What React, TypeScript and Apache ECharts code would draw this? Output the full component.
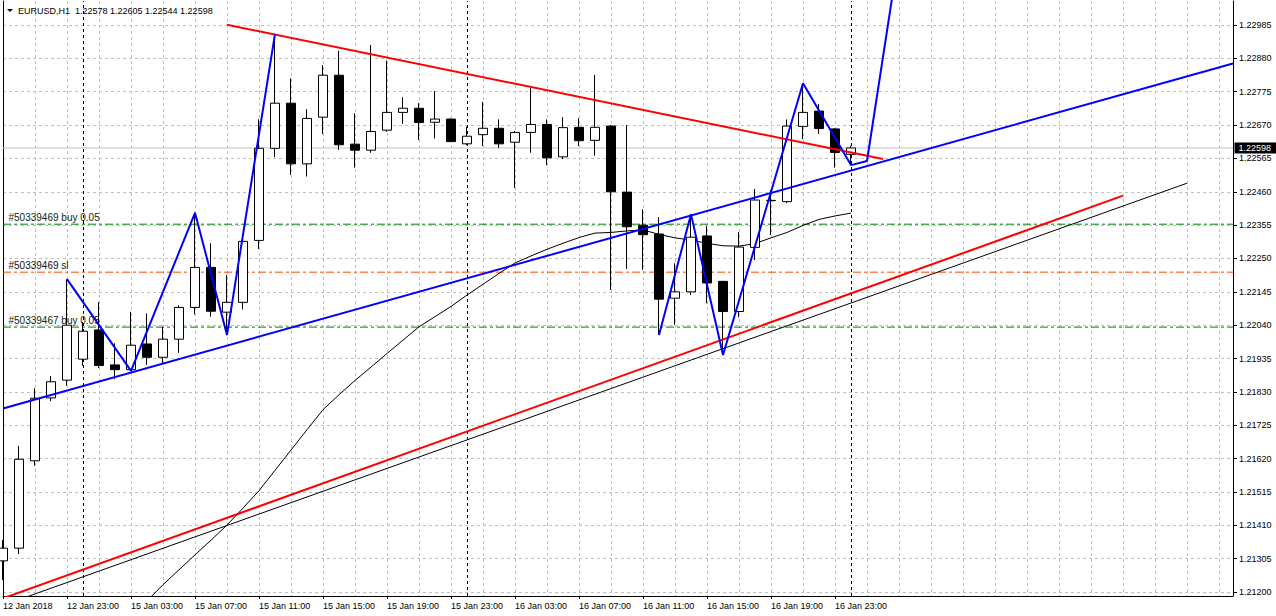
import React, { useEffect, useRef } from "react";
import * as echarts from "echarts";

const chartTitle = "EURUSD,H1  1.22578 1.22605 1.22544 1.22598";

// H1 bars, index 0 = 12 Jan 19:00 ... index 53 = 17 Jan 00:00
const opens = [
  1.21298, 1.21338, 1.21613, 1.21811, 1.21867, 1.21933, 1.22025, 1.21915, 1.219, 1.21981,
  1.21939, 1.21996, 1.22096, 1.22222, 1.22081, 1.22112, 1.22307, 1.22597, 1.22739, 1.22548,
  1.22695, 1.22827, 1.2261, 1.22591, 1.22654, 1.2271, 1.22723, 1.22679, 1.22689, 1.22611,
  1.2264, 1.2266, 1.22616, 1.22647, 1.22672, 1.2257, 1.22663, 1.22622, 1.22667, 1.22459,
  1.22355, 1.22327, 1.22125, 1.22145, 1.22321, 1.22178, 1.22083, 1.22285, 1.22432, 1.22429,
  1.22666, 1.22714, 1.22658, 1.22578,
];
const highs = [
  1.21364, 1.2166, 1.21841, 1.2188, 1.22185, 1.2205, 1.22113, 1.21983, 1.22082, 1.22077,
  1.22035, 1.22103, 1.22394, 1.22298, 1.22198, 1.22315, 1.22688, 1.22957, 1.22817, 1.2272,
  1.22859, 1.22904, 1.22707, 1.22922, 1.22873, 1.22758, 1.22739, 1.22777, 1.22692, 1.22665,
  1.22743, 1.22688, 1.22652, 1.22786, 1.22688, 1.22695, 1.22692, 1.22828, 1.2267, 1.2267,
  1.22405, 1.2238, 1.22235, 1.22389, 1.22352, 1.22179, 1.22333, 1.22469, 1.22466, 1.22688,
  1.22802, 1.22736, 1.22661, 1.22605,
];
const lows = [
  1.21238, 1.2132, 1.21598, 1.21801, 1.21849, 1.21912, 1.21905, 1.2187, 1.21896, 1.21915,
  1.2192, 1.21953, 1.22074, 1.22067, 1.22009, 1.2209, 1.2228, 1.22569, 1.22513, 1.22508,
  1.22642, 1.22592, 1.22536, 1.22583, 1.22649, 1.22674, 1.22623, 1.22628, 1.22617, 1.22607,
  1.22604, 1.22598, 1.22472, 1.22583, 1.22544, 1.22563, 1.22604, 1.22574, 1.22151, 1.22217,
  1.22214, 1.22009, 1.22041, 1.22135, 1.22109, 1.21946, 1.22065, 1.22245, 1.22324, 1.22424,
  1.22626, 1.22642, 1.22536, 1.22544,
];
const closes = [
  1.21338, 1.21618, 1.2181, 1.21862, 1.2204, 1.22021, 1.21913, 1.219, 1.21977, 1.21939,
  1.21996, 1.22096, 1.22222, 1.22084, 1.22112, 1.22304, 1.22597, 1.22739, 1.22548, 1.22691,
  1.22827, 1.22608, 1.22591, 1.2265, 1.2271, 1.22723, 1.22678, 1.22689, 1.22618, 1.22635,
  1.2266, 1.22611, 1.22647, 1.22672, 1.22567, 1.22662, 1.22621, 1.22663, 1.2246, 1.2235,
  1.22325, 1.22122, 1.22145, 1.22317, 1.22173, 1.22083, 1.22286, 1.22434, 1.22433, 1.22667,
  1.2271, 1.22659, 1.22584, 1.22598,
];

// moving average (thin black curve), first value at bar 9
const maStartBar = 9;
const maValues = [
  1.21172, 1.21223, 1.2127, 1.21317, 1.21363, 1.21411, 1.21464, 1.21519, 1.21583, 1.21647,
  1.21711, 1.21774, 1.21821, 1.21866, 1.21908, 1.21951, 1.21993, 1.22035, 1.22067, 1.22099,
  1.22135, 1.22169, 1.22203, 1.22236, 1.22258, 1.22279, 1.22298, 1.22316, 1.2233, 1.22332,
  1.22337, 1.2234, 1.22326, 1.22315, 1.22308, 1.22298, 1.2229, 1.22289, 1.22297, 1.22315,
  1.22332, 1.22354, 1.22373, 1.22384, 1.22393,
];

// zigzag (blue), null = gap
const zigzagBars = [4, 8, 12, 14, 17, null, 41, 43, 45, 50, 53, 54, 56];
const zigzagPrices = [
  1.22185, 1.21896, 1.22394, 1.22009, 1.22957, null, 1.22009, 1.22389, 1.21946, 1.22802,
  1.22544, 1.22557, 1.23212,
];

// trend lines
const blueTrendBars = [0, 76.875];
const blueTrendPrices = [1.21778, 1.22864];
const redDownBars = [14, 55];
const redDownPrices = [1.22986, 1.22563];
const redUpBars = [0, 70];
const redUpPrices = [1.2118, 1.22448];
const blackUpBars = [1, 74];
const blackUpPrices = [1.21176, 1.22487];

// trade levels
const orderNames = ["#50339469 buy 0.05", "#50339469 sl", "#50339467 buy 0.05"];
const orderPrices = [1.22358, 1.22207, 1.22034];
const orderKinds = ["buy", "sl", "buy"];

const bidPrice = 1.22598;

// axes
const priceTicks = [
  1.212, 1.21305, 1.2141, 1.21515, 1.2162, 1.21725, 1.2183, 1.21935, 1.2204, 1.22145,
  1.2225, 1.22355, 1.2246, 1.22565, 1.2267, 1.22775, 1.2288, 1.22985,
];
const timeTickBars = [0, 4, 8, 12, 16, 20, 24, 28, 32, 36, 40, 44, 48, 52];
const timeTickLabels = [
  "12 Jan 2018", "12 Jan 23:00", "15 Jan 03:00", "15 Jan 07:00", "15 Jan 11:00",
  "15 Jan 15:00", "15 Jan 19:00", "15 Jan 23:00", "16 Jan 03:00", "16 Jan 07:00",
  "16 Jan 11:00", "16 Jan 15:00", "16 Jan 19:00", "16 Jan 23:00",
];
const daySeparatorBars = [5, 29, 53];

const yMin = 1.2118741;
const yMax = 1.2306071;
const xMin = 0;
const xMax = 76.875;

const FONT = "'Liberation Sans', Arial, sans-serif";
const CLEAR = "rgba(0,0,0,0)";

function buildOption() {
  const candles = opens.map((o, i) => [i, o, closes[i], lows[i], highs[i]]);
  const ma = maValues.map((v, k) => [maStartBar + k, v]);
  const zz = zigzagBars.map((b, k) => (b === null ? ["-", "-"] : [b, zigzagPrices[k]]));
  const seg = (bars: number[], prices: number[]) => bars.map((b, k) => [b, prices[k]]);

  const lineSeries = (name: string, data: any[], color: string, width: number, z: number) => ({
    name,
    type: "line",
    data,
    xAxisIndex: 0,
    yAxisIndex: 0,
    symbol: "none",
    showSymbol: false,
    clip: true,
    silent: true,
    connectNulls: false,
    lineStyle: { color, width },
    z,
  });

  const orderSeries = orderPrices.map((p, k) => ({
    name: orderNames[k],
    type: "line",
    xAxisIndex: 0,
    yAxisIndex: 0,
    silent: true,
    clip: false,
    symbol: "circle",
    symbolSize: 1,
    showSymbol: true,
    itemStyle: { color: CLEAR, borderColor: CLEAR, borderWidth: 0 },
    lineStyle: {
      color: orderKinds[k] === "sl" ? "#ff4500" : "#008000",
      width: 1,
      type: [8, 3, 3, 3],
    },
    z: 1,
    data: [
      {
        value: [xMin, p],
        label: {
          show: true,
          formatter: orderNames[k],
          position: [6, -11],
          align: "left",
          verticalAlign: "top",
          color: orderKinds[k] === "sl" ? "#1a0f0f" : "#102810",
          fontFamily: FONT,
          fontSize: 10,
        },
      },
      { value: [xMax, p], label: { show: false } },
    ],
  }));

  const bidSeries = {
    name: "bid",
    type: "line",
    xAxisIndex: 0,
    yAxisIndex: 0,
    silent: true,
    clip: false,
    symbol: "circle",
    symbolSize: 1,
    showSymbol: true,
    itemStyle: { color: CLEAR, borderColor: CLEAR, borderWidth: 0 },
    lineStyle: { color: "#c0c0c0", width: 1, type: "solid" },
    z: 1,
    data: [
      { value: [xMin, bidPrice], label: { show: false } },
      {
        value: [xMax, bidPrice],
        label: {
          show: true,
          formatter: bidPrice.toFixed(5),
          position: "right",
          distance: 1,
          color: "#fff",
          backgroundColor: "#000",
          padding: [1, 6, 1, 4],
          fontFamily: FONT,
          fontSize: 9,
        },
      },
    ],
  };

  return {
    animation: false,
    backgroundColor: "#ffffff",
    textStyle: { fontFamily: FONT, fontSize: 9 },
    title: {
      text: chartTitle,
      left: 18,
      top: 6,
      padding: 0,
      textStyle: { fontFamily: FONT, fontSize: 9, fontWeight: "normal", color: "#000" },
    },
    graphic: [
      {
        type: "polygon",
        shape: { points: [[7, 9], [13, 9], [10, 12]] },
        style: { fill: "#000" },
      },
    ],
    grid: { left: 3, right: 43, top: 1, bottom: 20, containLabel: false },
    xAxis: [
      {
        type: "value",
        min: xMin,
        max: xMax,
        interval: 2,
        axisLine: { show: false },
        axisTick: { show: false },
        axisLabel: { show: false },
        splitLine: { show: true, lineStyle: { color: "#c0c0c0", width: 1, type: [3, 3] } },
      },
      {
        type: "value",
        min: xMin,
        max: xMax,
        position: "bottom",
        axisLine: { show: true, onZero: false, lineStyle: { color: "#000", width: 1 } },
        axisTick: { show: true, customValues: timeTickBars, length: 3, lineStyle: { color: "#000" } },
        axisLabel: {
          show: true,
          customValues: timeTickBars,
          formatter: (v: number) => {
            const k = timeTickBars.indexOf(Math.round(v));
            return k >= 0 ? timeTickLabels[k] : "";
          },
          align: "left",
          margin: 5,
          color: "#000",
          fontFamily: FONT,
          fontSize: 9,
        },
        splitLine: { show: false },
      },
    ],
    yAxis: [
      {
        type: "value",
        position: "right",
        min: yMin,
        max: yMax,
        axisLine: { show: true, onZero: false, lineStyle: { color: "#000", width: 1 } },
        axisTick: { show: true, customValues: priceTicks, length: 4, lineStyle: { color: "#000" } },
        axisLabel: {
          show: true,
          customValues: priceTicks,
          formatter: (v: number) => v.toFixed(5),
          margin: 6,
          color: "#000",
          fontFamily: FONT,
          fontSize: 9,
        },
        splitLine: { show: true, lineStyle: { color: "#c0c0c0", width: 1, type: [3, 3] } },
      },
      {
        type: "value",
        position: "left",
        min: yMin,
        max: yMax,
        axisLine: { show: true, onZero: false, lineStyle: { color: "#000", width: 1 } },
        axisTick: { show: false },
        axisLabel: { show: false },
        splitLine: { show: false },
      },
    ],
    series: [
      {
        name: "separators",
        type: "line",
        data: [],
        xAxisIndex: 0,
        yAxisIndex: 0,
        silent: true,
        z: 1,
        markLine: {
          silent: true,
          symbol: ["none", "none"],
          animation: false,
          z: 1,
          data: daySeparatorBars.map((b) => ({
            xAxis: b,
            lineStyle: { color: "#000", width: 1, type: [3, 3] },
            label: { show: false },
          })),
        },
      },
      ...orderSeries,
      bidSeries,
      lineSeries("ma", ma, "#000", 1, 2),
      lineSeries("blackUp", seg(blackUpBars, blackUpPrices), "#000", 1, 2),
      {
        name: "price",
        type: "candlestick",
        xAxisIndex: 0,
        yAxisIndex: 0,
        data: candles,
        encode: { x: 0, y: [1, 2, 3, 4] },
        barWidth: 10,
        clip: true,
        silent: true,
        z: 3,
        itemStyle: {
          color: "#ffffff",
          color0: "#000000",
          borderColor: "#000000",
          borderColor0: "#000000",
          borderColorDoji: "#000000",
          borderWidth: 1,
        },
      },
      lineSeries("redUp", seg(redUpBars, redUpPrices), "#ff0000", 2, 4),
      lineSeries("redDown", seg(redDownBars, redDownPrices), "#ff0000", 2, 4),
      lineSeries("blueTrend", seg(blueTrendBars, blueTrendPrices), "#0000ff", 2, 4),
      lineSeries("zigzag", zz, "#0000ff", 2, 5),
    ],
  };
}

export default function App() {
  const ref = useRef<HTMLDivElement>(null);
  useEffect(() => {
    if (!ref.current) return;
    const chart = echarts.init(ref.current, null, { renderer: "svg" });
    chart.setOption(buildOption() as any);
    return () => chart.dispose();
  }, []);
  return (
    <div
      ref={ref}
      style={{ position: "fixed", left: 0, top: 0, width: 1276, height: 616, background: "#fff" }}
    />
  );
}
